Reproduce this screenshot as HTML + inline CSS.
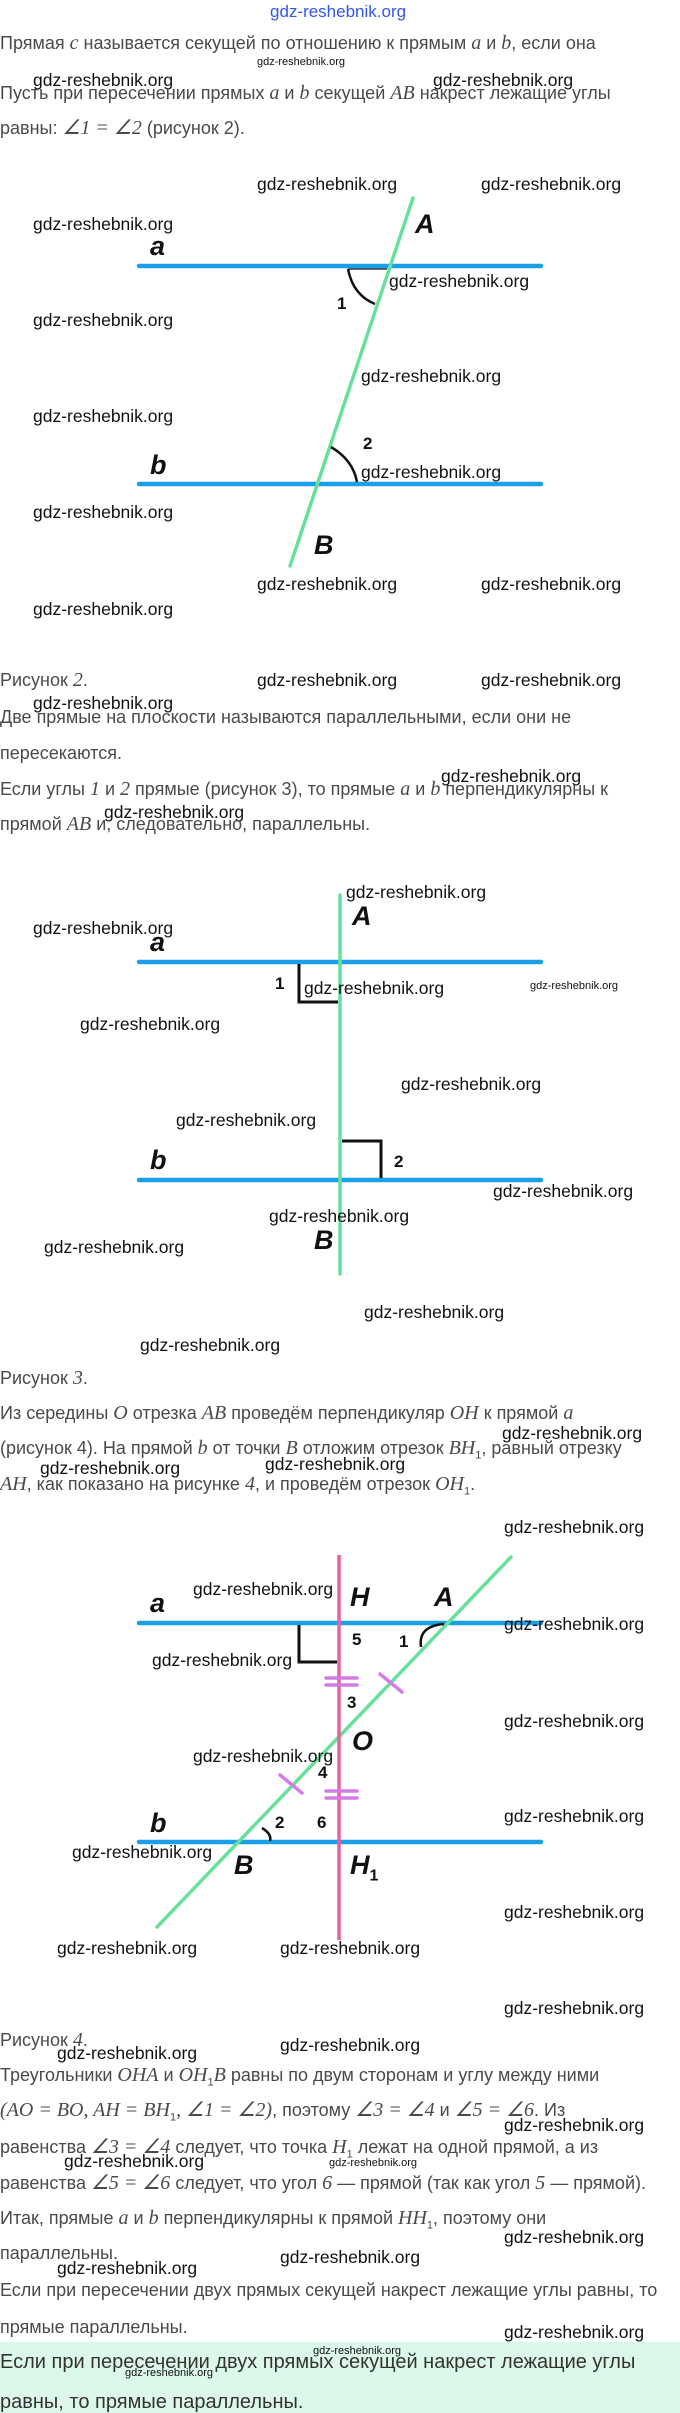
<!DOCTYPE html>
<html><head><meta charset="utf-8"><style>
body{margin:0;background:#fff;}
#p{position:relative;width:680px;height:2413px;overflow:hidden;font-family:"Liberation Sans",sans-serif;}
.t{position:absolute;left:0;white-space:nowrap;font-size:18px;line-height:22px;color:#4a4a4a;}
.t i{font-family:"Liberation Serif",serif;font-size:20px;}
.w{position:absolute;white-space:nowrap;font-size:17.5px;line-height:22px;color:#111;}
.s{position:absolute;white-space:nowrap;font-size:11px;line-height:14px;color:#111;}
.L{position:absolute;font-weight:bold;font-style:italic;font-size:27px;line-height:30px;color:#111;}
.n{position:absolute;font-weight:bold;font-size:17px;line-height:20px;color:#111;}
svg{position:absolute;left:0;top:0;}
</style></head><body><div id="p">
<svg width="680" height="2413">
<rect x="0" y="2342" width="680" height="71" fill="#dcf8ea"/>
<line x1="139" y1="266" x2="541" y2="266" stroke="#1aa0e8" stroke-width="4.5" stroke-linecap="round"/>
<line x1="139" y1="484" x2="541" y2="484" stroke="#1aa0e8" stroke-width="4.5" stroke-linecap="round"/>
<line x1="413" y1="198" x2="290" y2="566" stroke="#66e09a" stroke-width="3.5" stroke-linecap="round"/>
<path d="M348 269 Q353 295 375 304" fill="none" stroke="#111" stroke-width="2.5"/>
<line x1="348" y1="269" x2="387" y2="269" stroke="#111" stroke-width="1.2"/>
<path d="M331 447 Q353 460 357 482" fill="none" stroke="#111" stroke-width="2.5"/>
<line x1="139" y1="962" x2="541" y2="962" stroke="#1aa0e8" stroke-width="4.5" stroke-linecap="round"/>
<line x1="139" y1="1180" x2="541" y2="1180" stroke="#1aa0e8" stroke-width="4.5" stroke-linecap="round"/>
<line x1="340" y1="895" x2="340" y2="1274" stroke="#66e09a" stroke-width="3.5" stroke-linecap="round"/>
<polyline points="299,964 299,1002 338,1002" fill="none" stroke="#111" stroke-width="3"/>
<polyline points="342,1141 381,1141 381,1178" fill="none" stroke="#111" stroke-width="3"/>
<line x1="139" y1="1623" x2="541" y2="1623" stroke="#1aa0e8" stroke-width="4.5" stroke-linecap="round"/>
<line x1="139" y1="1842" x2="541" y2="1842" stroke="#1aa0e8" stroke-width="4.5" stroke-linecap="round"/>
<line x1="511" y1="1557" x2="157" y2="1927" stroke="#66e09a" stroke-width="3.5" stroke-linecap="round"/>
<line x1="339" y1="1555" x2="339" y2="1940" stroke="#e8609f" stroke-width="3.5"/>
<polyline points="299,1625 299,1662 337,1662" fill="none" stroke="#111" stroke-width="3"/>
<path d="M444 1624 Q418 1626 421 1647" fill="none" stroke="#111" stroke-width="2.5"/>
<path d="M262 1828 Q272 1834 270 1841" fill="none" stroke="#111" stroke-width="2.5"/>
<g stroke="#d57be6" stroke-width="3.5" stroke-linecap="round">
<line x1="326" y1="1678" x2="357" y2="1678"/><line x1="326" y1="1685" x2="357" y2="1685"/>
<line x1="326" y1="1791" x2="357" y2="1791"/><line x1="326" y1="1798" x2="357" y2="1798"/>
<line x1="380" y1="1674" x2="402" y2="1692"/>
<line x1="280" y1="1775" x2="302" y2="1793"/>
</g>
</svg>
<div class="w" style="left:270px;top:1px;color:#3355ee;font-size:17px;">gdz-reshebnik.org</div>
<div class="t" style="top:32px">Прямая <i>c</i> называется секущей по отношению к прямым <i>a</i> и <i>b</i>, если она</div>
<div class="s" style="left:257px;top:55px">gdz-reshebnik.org</div>
<div class="w" style="left:33px;top:69px">gdz-reshebnik.org</div>
<div class="w" style="left:433px;top:69px">gdz-reshebnik.org</div>
<div class="t" style="top:82px">Пусть при пересечении прямых <i>a</i> и <i>b</i> секущей <i>AB</i> накрест лежащие углы</div>
<div class="t" style="top:117px">равны: <i>∠1 = ∠2</i> (рисунок 2).</div>
<div class="w" style="left:257px;top:173px">gdz-reshebnik.org</div>
<div class="w" style="left:481px;top:173px">gdz-reshebnik.org</div>
<div class="w" style="left:33px;top:213px">gdz-reshebnik.org</div>
<div class="L" style="left:415px;top:209px">A</div>
<div class="L" style="left:150px;top:231px">a</div>
<div class="w" style="left:389px;top:270px">gdz-reshebnik.org</div>
<div class="n" style="left:337px;top:294px">1</div>
<div class="w" style="left:33px;top:309px">gdz-reshebnik.org</div>
<div class="w" style="left:361px;top:365px">gdz-reshebnik.org</div>
<div class="w" style="left:33px;top:405px">gdz-reshebnik.org</div>
<div class="n" style="left:363px;top:434px">2</div>
<div class="L" style="left:150px;top:450px">b</div>
<div class="w" style="left:361px;top:461px">gdz-reshebnik.org</div>
<div class="w" style="left:33px;top:501px">gdz-reshebnik.org</div>
<div class="L" style="left:314px;top:530px">B</div>
<div class="w" style="left:257px;top:573px">gdz-reshebnik.org</div>
<div class="w" style="left:481px;top:573px">gdz-reshebnik.org</div>
<div class="w" style="left:33px;top:598px">gdz-reshebnik.org</div>
<div class="t" style="top:669px">Рисунок <i>2</i>.</div>
<div class="w" style="left:257px;top:669px">gdz-reshebnik.org</div>
<div class="w" style="left:481px;top:669px">gdz-reshebnik.org</div>
<div class="w" style="left:33px;top:692px">gdz-reshebnik.org</div>
<div class="t" style="top:706px">Две прямые на плоскости называются параллельными, если они не</div>
<div class="t" style="top:742px">пересекаются.</div>
<div class="w" style="left:441px;top:765px">gdz-reshebnik.org</div>
<div class="t" style="top:778px">Если углы <i>1</i> и <i>2</i> прямые (рисунок 3), то прямые <i>a</i> и <i>b</i> перпендикулярны к</div>
<div class="w" style="left:104px;top:801px">gdz-reshebnik.org</div>
<div class="t" style="top:813px">прямой <i>AB</i> и, следовательно, параллельны.</div>
<div class="w" style="left:346px;top:881px">gdz-reshebnik.org</div>
<div class="L" style="left:352px;top:901px">A</div>
<div class="w" style="left:33px;top:917px">gdz-reshebnik.org</div>
<div class="L" style="left:150px;top:927px">a</div>
<div class="n" style="left:275px;top:974px">1</div>
<div class="w" style="left:304px;top:977px">gdz-reshebnik.org</div>
<div class="s" style="left:530px;top:979px">gdz-reshebnik.org</div>
<div class="w" style="left:80px;top:1013px">gdz-reshebnik.org</div>
<div class="w" style="left:401px;top:1073px">gdz-reshebnik.org</div>
<div class="w" style="left:176px;top:1109px">gdz-reshebnik.org</div>
<div class="n" style="left:394px;top:1152px">2</div>
<div class="L" style="left:150px;top:1145px">b</div>
<div class="w" style="left:493px;top:1180px">gdz-reshebnik.org</div>
<div class="w" style="left:269px;top:1205px">gdz-reshebnik.org</div>
<div class="L" style="left:314px;top:1225px">B</div>
<div class="w" style="left:44px;top:1236px">gdz-reshebnik.org</div>
<div class="w" style="left:364px;top:1301px">gdz-reshebnik.org</div>
<div class="w" style="left:140px;top:1334px">gdz-reshebnik.org</div>
<div class="t" style="top:1367px">Рисунок <i>3</i>.</div>
<div class="t" style="top:1402px">Из середины <i>O</i> отрезка <i>AB</i> проведём перпендикуляр <i>OH</i> к прямой <i>a</i></div>
<div class="w" style="left:502px;top:1422px">gdz-reshebnik.org</div>
<div class="t" style="top:1437px">(рисунок 4). На прямой <i>b</i> от точки <i>B</i> отложим отрезок <i>BH</i><sub style="font-size:11px">1</sub>, равный отрезку</div>
<div class="w" style="left:40px;top:1457px">gdz-reshebnik.org</div>
<div class="w" style="left:265px;top:1453px">gdz-reshebnik.org</div>
<div class="t" style="top:1473px"><i>AH</i>, как показано на рисунке <i>4</i>, и проведём отрезок <i>OH</i><sub style="font-size:11px">1</sub>.</div>
<div class="w" style="left:504px;top:1516px">gdz-reshebnik.org</div>
<div class="w" style="left:193px;top:1578px">gdz-reshebnik.org</div>
<div class="L" style="left:350px;top:1582px">H</div>
<div class="L" style="left:434px;top:1582px">A</div>
<div class="L" style="left:150px;top:1588px">a</div>
<div class="w" style="left:504px;top:1613px">gdz-reshebnik.org</div>
<div class="n" style="left:352px;top:1630px">5</div>
<div class="n" style="left:399px;top:1632px">1</div>
<div class="w" style="left:152px;top:1649px">gdz-reshebnik.org</div>
<div class="n" style="left:347px;top:1693px">3</div>
<div class="w" style="left:504px;top:1710px">gdz-reshebnik.org</div>
<div class="L" style="left:352px;top:1726px">O</div>
<div class="w" style="left:193px;top:1745px">gdz-reshebnik.org</div>
<div class="n" style="left:318px;top:1763px">4</div>
<div class="w" style="left:504px;top:1805px">gdz-reshebnik.org</div>
<div class="n" style="left:275px;top:1813px">2</div>
<div class="n" style="left:317px;top:1813px">6</div>
<div class="L" style="left:150px;top:1808px">b</div>
<div class="w" style="left:72px;top:1841px">gdz-reshebnik.org</div>
<div class="L" style="left:234px;top:1850px">B</div>
<div class="L" style="left:350px;top:1850px">H<sub style="font-size:16px;font-style:normal">1</sub></div>
<div class="w" style="left:504px;top:1901px">gdz-reshebnik.org</div>
<div class="w" style="left:57px;top:1937px">gdz-reshebnik.org</div>
<div class="w" style="left:280px;top:1937px">gdz-reshebnik.org</div>
<div class="w" style="left:504px;top:1997px">gdz-reshebnik.org</div>
<div class="t" style="top:2029px">Рисунок <i>4</i>.</div>
<div class="w" style="left:280px;top:2034px">gdz-reshebnik.org</div>
<div class="w" style="left:57px;top:2042px">gdz-reshebnik.org</div>
<div class="t" style="top:2064px">Треугольники <i>OHA</i> и <i>OH</i><sub style="font-size:11px">1</sub><i>B</i> равны по двум сторонам и углу между ними</div>
<div class="t" style="top:2099px"><i>(AO = BO, AH = BH</i><sub style="font-size:11px">1</sub><i>, ∠1 = ∠2)</i>, поэтому <i>∠3 = ∠4</i> и <i>∠5 = ∠6</i>. Из</div>
<div class="w" style="left:504px;top:2114px">gdz-reshebnik.org</div>
<div class="t" style="top:2136px">равенства <i>∠3 = ∠4</i> следует, что точка <i>H</i><sub style="font-size:11px">1</sub> лежат на одной прямой, а из</div>
<div class="w" style="left:64px;top:2150px">gdz-reshebnik.org</div>
<div class="s" style="left:329px;top:2156px">gdz-reshebnik.org</div>
<div class="t" style="top:2172px">равенства <i>∠5 = ∠6</i> следует, что угол <i>6</i> — прямой (так как угол <i>5</i> — прямой).</div>
<div class="t" style="top:2207px">Итак, прямые <i>a</i> и <i>b</i> перпендикулярны к прямой <i>HH</i><sub style="font-size:11px">1</sub>, поэтому они</div>
<div class="w" style="left:504px;top:2226px">gdz-reshebnik.org</div>
<div class="t" style="top:2242px">параллельны.</div>
<div class="w" style="left:280px;top:2246px">gdz-reshebnik.org</div>
<div class="w" style="left:57px;top:2257px">gdz-reshebnik.org</div>
<div class="t" style="top:2279px">Если при пересечении двух прямых секущей накрест лежащие углы равны, то</div>
<div class="t" style="top:2316px">прямые параллельны.</div>
<div class="w" style="left:504px;top:2321px">gdz-reshebnik.org</div>
<div class="s" style="left:313px;top:2344px">gdz-reshebnik.org</div>
<div class="t" style="top:2351px;font-size:20px;color:#333">Если при пересечении двух прямых секущей накрест лежащие углы</div>
<div class="s" style="left:125px;top:2366px">gdz-reshebnik.org</div>
<div class="t" style="top:2391px;font-size:20px;color:#333">равны, то прямые параллельны.</div>
</div></body></html>
